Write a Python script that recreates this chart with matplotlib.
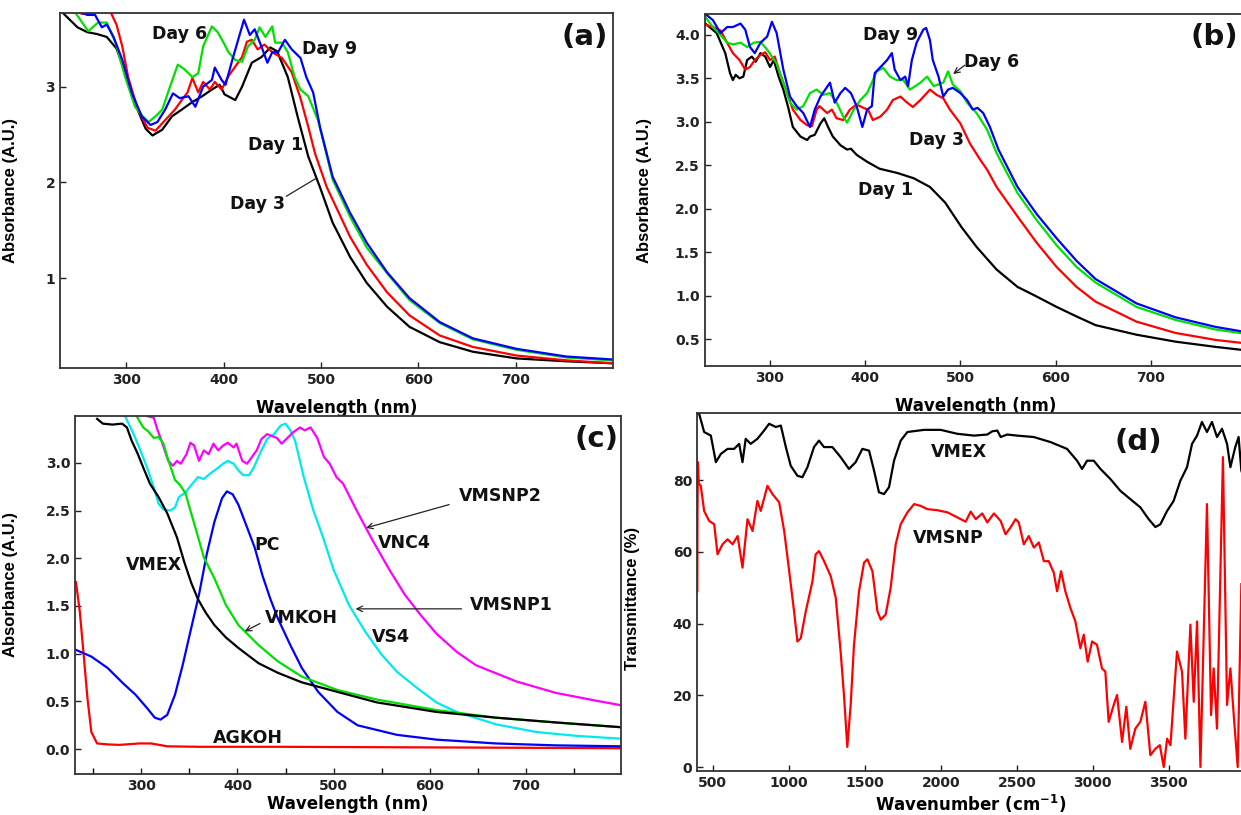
import matplotlib
matplotlib.use("Agg")
import matplotlib.pyplot as plt
from matplotlib.ticker import MultipleLocator

plt.rcParams["font.family"] = ["DejaVu Sans"]
plt.rcParams["font.weight"] = "bold"
plt.rcParams["mathtext.fontset"] = "dejavusans"
plt.rcParams["mathtext.default"] = "bf"

# ---------------- panel (a): UV-vis, days ----------------
a_day1_x = [235, 250, 260, 270, 280, 290, 300, 310, 320, 327, 337, 347, 357, 368, 378, 388, 396, 401, 412, 419,
            429, 439, 448, 455, 466, 476, 487, 499, 512, 530, 547, 568, 591, 622, 656, 701, 752, 798]
a_day1_y = [3.77, 3.62, 3.57, 3.55, 3.52, 3.40, 3.12, 2.80, 2.56, 2.49, 2.55, 2.69, 2.76, 2.84, 2.90, 2.97, 3.02, 2.92,
            2.86, 3.00, 3.25, 3.31, 3.41, 3.37, 3.10, 2.69, 2.27, 1.95, 1.58, 1.22, 0.95, 0.70, 0.49, 0.33, 0.23, 0.16,
            0.13, 0.11]

a_day3_x = [235, 255, 270, 283, 290, 296, 302, 312, 322, 330, 340, 350, 357, 363, 368, 374, 379, 386, 391, 398, 405,
            412, 419, 424, 429, 435, 442, 450, 460, 470, 479, 487, 494, 506, 512, 530, 547, 568, 591, 622, 656, 701,
            752, 798]
a_day3_y = [3.85, 3.76, 3.78, 3.80, 3.65, 3.42, 3.10, 2.76, 2.57, 2.54, 2.65, 2.76, 2.86, 2.94, 3.09, 2.94, 3.05, 2.97,
            3.05, 2.97, 3.11, 3.21, 3.31, 3.47, 3.49, 3.39, 3.44, 3.36, 3.30, 3.15, 2.88, 2.58, 2.30, 1.95, 1.82, 1.43,
            1.14, 0.85, 0.61, 0.40, 0.28, 0.19, 0.14, 0.11]

a_day6_x = [235, 248, 261, 271, 280, 289, 299, 309, 317, 323, 330, 337, 345, 353, 360, 368, 374, 379, 388, 394, 400,
            405, 412, 419, 425, 432, 437, 443, 450, 453, 460, 466, 473, 479, 487, 497, 507, 512, 530, 547, 568, 591,
            622, 656, 701, 752, 798]
a_day6_y = [3.85, 3.77, 3.58, 3.67, 3.67, 3.46, 3.10, 2.79, 2.69, 2.63, 2.69, 2.76, 3.00, 3.23, 3.18, 3.10, 3.14, 3.42,
            3.63, 3.57, 3.46, 3.36, 3.28, 3.26, 3.42, 3.49, 3.62, 3.52, 3.63, 3.46, 3.46, 3.36, 3.10, 2.97, 2.90, 2.65,
            2.24, 2.03, 1.64, 1.32, 1.05, 0.77, 0.53, 0.36, 0.25, 0.17, 0.14]

a_day9_x = [235, 260, 268, 275, 280, 287, 296, 306, 316, 325, 332, 340, 348, 355, 364, 371, 379, 388, 391, 398, 402,
            409, 415, 421, 427, 432, 440, 445, 450, 456, 463, 470, 479, 485, 492, 499, 512, 530, 547, 568, 591, 622,
            656, 701, 752, 798]
a_day9_y = [3.85, 3.75, 3.75, 3.62, 3.65, 3.52, 3.28, 2.93, 2.69, 2.60, 2.63, 2.76, 2.93, 2.88, 2.90, 2.79, 3.00, 3.07,
            3.20, 3.07, 3.02, 3.28, 3.49, 3.70, 3.54, 3.60, 3.39, 3.25, 3.36, 3.36, 3.49, 3.39, 3.30, 3.10, 2.94, 2.58,
            2.06, 1.68, 1.37, 1.06, 0.79, 0.54, 0.37, 0.26, 0.18, 0.15]

# ---------------- panel (b): UV-vis, days ----------------
b_day1_x = [231, 244, 253, 258, 261, 264, 268, 272, 276, 281, 285, 290, 295, 300, 304, 309, 314, 319, 324, 332, 339,
            342, 347, 353, 357, 361, 366, 374, 381, 385, 391, 402, 415, 434, 451, 468, 484, 501, 517, 538, 560, 580,
            601, 622, 642, 685, 726, 768, 800]
b_day1_y = [4.14, 4.02, 3.79, 3.56, 3.48, 3.54, 3.50, 3.52, 3.71, 3.75, 3.69, 3.79, 3.75, 3.63, 3.71, 3.52, 3.37, 3.17,
            2.94, 2.83, 2.79, 2.83, 2.85, 2.98, 3.04, 2.94, 2.83, 2.73, 2.68, 2.69, 2.62, 2.54, 2.46, 2.41, 2.35, 2.25,
            2.07, 1.79, 1.56, 1.30, 1.10, 0.99, 0.87, 0.76, 0.66, 0.55, 0.47, 0.41, 0.37]

b_day3_x = [231, 240, 248, 255, 261, 268, 274, 279, 284, 290, 295, 300, 305, 311, 318, 324, 332, 339, 344, 349, 352,
            360, 365, 370, 377, 384, 391, 398, 403, 408, 416, 423, 429, 437, 443, 450, 458, 468, 475, 482, 489, 500,
            510, 521, 528, 538, 560, 580, 601, 622, 642, 685, 726, 768, 800]
b_day3_y = [4.12, 4.09, 4.05, 3.91, 3.79, 3.71, 3.60, 3.63, 3.71, 3.77, 3.80, 3.71, 3.75, 3.54, 3.33, 3.14, 3.02, 2.96,
            2.95, 3.14, 3.18, 3.10, 3.14, 3.04, 3.02, 3.14, 3.20, 3.16, 3.14, 3.02, 3.06, 3.14, 3.25, 3.29, 3.23, 3.17,
            3.25, 3.37, 3.31, 3.27, 3.14, 2.98, 2.75, 2.56, 2.45, 2.25, 1.91, 1.61, 1.33, 1.10, 0.93, 0.70, 0.57, 0.49,
            0.45]

b_day6_x = [231, 240, 248, 255, 261, 269, 276, 283, 290, 297, 302, 307, 314, 321, 328, 335, 342, 349, 356, 363, 370,
            377, 381, 388, 395, 402, 407, 412, 419, 426, 433, 440, 447, 458, 465, 472, 482, 487, 492, 500, 507, 517,
            528, 538, 560, 580, 601, 622, 642, 685, 726, 768, 800]
b_day6_y = [4.22, 4.09, 4.00, 3.91, 3.89, 3.91, 3.86, 3.91, 3.92, 3.83, 3.75, 3.67, 3.45, 3.22, 3.14, 3.18, 3.33, 3.37,
            3.31, 3.33, 3.22, 3.06, 2.99, 3.14, 3.25, 3.33, 3.45, 3.58, 3.62, 3.52, 3.48, 3.48, 3.37, 3.45, 3.52, 3.41,
            3.45, 3.58, 3.43, 3.35, 3.22, 3.10, 2.91, 2.64, 2.18, 1.87, 1.58, 1.33, 1.15, 0.87, 0.72, 0.61, 0.56]

b_day9_x = [231, 240, 248, 255, 261, 269, 274, 279, 284, 290, 297, 302, 307, 314, 321, 328, 335, 342, 347, 353, 358,
            363, 368, 374, 379, 385, 391, 397, 402, 407, 410, 417, 423, 428, 431, 437, 442, 445, 449, 454, 461, 464,
            468, 471, 477, 482, 487, 492, 500, 507, 513, 518, 524, 531, 540, 560, 580, 601, 622, 642, 685, 726, 768,
            800]
b_day9_y = [4.25, 4.17, 4.02, 4.09, 4.09, 4.13, 4.06, 3.86, 3.79, 3.91, 3.98, 4.15, 4.02, 3.60, 3.29, 3.18, 3.10, 2.94,
            3.14, 3.29, 3.37, 3.45, 3.22, 3.33, 3.39, 3.33, 3.18, 2.94, 3.14, 3.18, 3.56, 3.64, 3.71, 3.79, 3.60, 3.48,
            3.52, 3.41, 3.71, 3.91, 4.06, 4.08, 3.94, 3.71, 3.52, 3.29, 3.37, 3.39, 3.33, 3.25, 3.14, 3.16, 3.10, 2.94,
            2.68, 2.25, 1.94, 1.66, 1.40, 1.19, 0.91, 0.75, 0.64, 0.58]

# ---------------- panel (c): UV-vis, samples ----------------
c_vmex_x = [254, 260, 270, 280, 285, 290, 296, 302, 309, 318, 327, 337, 345, 352, 359, 367, 376, 388, 401, 422, 442,
            467, 504, 545, 607, 669, 731, 799]
c_vmex_y = [3.46, 3.41, 3.40, 3.41, 3.37, 3.23, 3.10, 2.95, 2.78, 2.64, 2.47, 2.22, 1.95, 1.74, 1.57, 1.43, 1.30, 1.17,
            1.06, 0.90, 0.80, 0.70, 0.60, 0.49, 0.39, 0.33, 0.28, 0.23]

c_vmkoh_x = [295, 302, 307, 313, 318, 323, 327, 330, 335, 340, 346, 351, 358, 365, 376, 388, 401, 422, 442, 467, 504,
             545, 607, 669, 731, 799]
c_vmkoh_y = [3.49, 3.37, 3.33, 3.26, 3.27, 3.20, 3.06, 2.97, 2.82, 2.77, 2.68, 2.50, 2.26, 2.01, 1.79, 1.51, 1.30, 1.09,
             0.92, 0.76, 0.62, 0.52, 0.41, 0.33, 0.28, 0.23]

c_vs4_x = [283, 292, 299, 306, 313, 318, 323, 330, 335, 339, 346, 353, 359, 365, 372, 379, 385, 390, 396, 401, 406,
           412, 417, 424, 431, 438, 445, 450, 455, 460, 469, 479, 489, 500, 516, 533, 550, 566, 587, 607, 628, 669,
           711, 752, 799]
c_vs4_y = [3.49, 3.30, 3.13, 2.95, 2.74, 2.57, 2.51, 2.50, 2.53, 2.64, 2.69, 2.78, 2.85, 2.83, 2.89, 2.94, 2.99, 3.02,
           2.99, 2.92, 2.87, 2.87, 2.95, 3.11, 3.25, 3.30, 3.39, 3.41, 3.34, 3.23, 2.85, 2.50, 2.22, 1.88, 1.51, 1.23,
           0.99, 0.81, 0.64, 0.49, 0.39, 0.26, 0.18, 0.14, 0.11]

c_vnc4_x = [306, 313, 316, 321, 325, 328, 333, 337, 341, 347, 351, 355, 360, 365, 370, 375, 380, 385, 390, 396, 399,
            405, 410, 415, 420, 425, 431, 436, 441, 446, 451, 458, 465, 470, 476, 483, 490, 496, 503, 510, 517, 524,
            533, 541, 558, 574, 591, 607, 628, 648, 690, 731, 772, 799]
c_vnc4_y = [3.49, 3.47, 3.37, 3.23, 3.11, 3.02, 2.97, 3.02, 2.99, 3.09, 3.21, 3.18, 3.02, 3.13, 3.09, 3.20, 3.13, 3.18,
            3.21, 3.16, 3.20, 3.02, 2.99, 3.06, 3.13, 3.25, 3.30, 3.28, 3.26, 3.20, 3.25, 3.32, 3.37, 3.34, 3.37, 3.26,
            3.06, 2.99, 2.85, 2.78, 2.64, 2.50, 2.33, 2.18, 1.88, 1.62, 1.40, 1.21, 1.02, 0.88, 0.71, 0.59, 0.51, 0.46]

c_pc_x = [232, 248, 265, 281, 294, 306, 314, 320, 327, 335, 343, 351, 360, 368, 376, 384, 389, 395, 401, 409, 418, 426,
          434, 442, 455, 467, 484, 504, 525, 566, 607, 669, 731, 799]
c_pc_y = [1.04, 0.97, 0.85, 0.69, 0.57, 0.43, 0.33, 0.31, 0.36, 0.57, 0.88, 1.23, 1.62, 2.04, 2.38, 2.63, 2.70, 2.67,
          2.56, 2.35, 2.11, 1.82, 1.58, 1.37, 1.09, 0.85, 0.60, 0.39, 0.25, 0.15, 0.10, 0.06, 0.04, 0.03]

c_agkoh_x = [232, 236, 240, 244, 248, 254, 265, 277, 298, 310, 327, 360, 442, 566, 690, 799]
c_agkoh_y = [1.75, 1.44, 0.99, 0.53, 0.18, 0.06, 0.05, 0.045, 0.06, 0.06, 0.03, 0.025, 0.025, 0.02, 0.015, 0.01]

# ---------------- panel (d): FTIR ----------------
d_vmex_x = [400, 412, 445, 489, 522, 555, 599, 642, 675, 697, 718, 751, 795, 839, 872, 916, 949, 982, 1014, 1058,
            1091, 1124, 1167, 1200, 1233, 1288, 1342, 1397, 1441, 1485, 1529, 1562, 1594, 1627, 1660, 1693, 1737,
            1781, 1890, 2000, 2109, 2219, 2306, 2339, 2372, 2394, 2437, 2502, 2612, 2721, 2830, 2896, 2929, 2962,
            3006, 3050, 3115, 3181, 3246, 3312, 3367, 3411, 3444, 3488, 3531, 3575, 3619, 3652, 3685, 3717, 3750,
            3783, 3816, 3849, 3882, 3904, 3936, 3958, 3976, 4000]
d_vmex_y = [98.7, 98.5, 93.4, 92.4, 85.0, 87.3, 88.7, 88.7, 90.1, 85.0, 91.5, 90.1, 91.5, 93.8, 95.7, 94.8, 95.2, 89.2,
            84.0, 81.2, 80.8, 83.6, 89.2, 91.0, 89.2, 89.2, 86.4, 83.1, 85.0, 88.7, 88.2, 82.6, 76.6, 76.1, 78.0, 85.4,
            91.0, 93.4, 94.0, 94.0, 92.9, 92.4, 92.7, 93.6, 93.8, 92.0, 92.7, 92.4, 92.0, 90.6, 88.7, 85.4, 83.1, 85.4,
            85.4, 83.1, 80.3, 77.0, 74.7, 72.4, 69.1, 66.9, 67.7, 71.4, 74.2, 79.8, 83.6, 90.1, 92.4, 96.2, 93.4, 96.2,
            92.0, 94.3, 90.1, 83.6, 89.2, 92.0, 82.6, 80.0]

d_vmsnp_x = [400, 401, 404, 410, 423, 445, 478, 511, 533, 566, 599, 632, 665, 697, 730, 763, 795, 817, 861, 894, 938,
             971, 1004, 1036, 1058, 1080, 1113, 1157, 1178, 1200, 1233, 1277, 1310, 1342, 1364, 1386, 1408, 1430,
             1463, 1496, 1518, 1551, 1584, 1606, 1638, 1671, 1704, 1737, 1781, 1825, 1868, 1912, 1978, 2044, 2109,
             2164, 2197, 2230, 2273, 2306, 2350, 2394, 2426, 2459, 2492, 2513, 2546, 2579, 2612, 2645, 2678, 2710,
             2743, 2765, 2791, 2819, 2852, 2885, 2918, 2940, 2966, 2995, 3027, 3060, 3082, 3104, 3137, 3159, 3192,
             3220, 3246, 3279, 3312, 3345, 3378, 3411, 3440, 3466, 3488, 3510, 3553, 3586, 3608, 3641, 3663, 3685,
             3707, 3750, 3777, 3794, 3816, 3855, 3882, 3904, 3926, 3952, 3976]
d_vmsnp_y = [49.0, 70.0, 85.0, 79.0, 78.4, 71.4, 68.6, 67.7, 59.3, 62.1, 63.5, 62.1, 64.4, 55.6, 69.1, 65.8, 74.2,
             71.4, 78.4, 76.1, 73.8, 65.8, 54.6, 43.4, 35.0, 35.9, 43.4, 51.8, 59.3, 60.2, 57.4, 53.2, 47.2, 32.2,
             20.1, 5.6, 17.3, 34.1, 49.0, 57.0, 57.9, 54.6, 43.4, 41.1, 42.5, 50.0, 62.1, 67.7, 71.0, 73.3, 72.8, 71.9,
             71.6, 71.0, 69.6, 68.4, 71.2, 69.1, 70.7, 68.2, 70.7, 68.6, 64.9, 66.8, 69.1, 68.2, 62.1, 64.4, 61.2,
             62.6, 57.4, 57.4, 54.2, 49.0, 54.6, 49.0, 44.4, 40.6, 33.1, 36.9, 29.4, 35.0, 34.1, 27.5, 26.6, 12.6,
             17.3, 20.1, 7.0, 16.8, 5.1, 10.7, 12.6, 18.2, 3.3, 5.1, 6.1, 0.0, 7.9, 6.1, 32.2, 26.6, 7.9, 39.7, 18.2,
             40.6, 0.0, 73.3, 14.5, 27.5, 10.7, 86.4, 17.3, 27.5, 14.5, 0.0, 51.0]

W, H = 1241, 815
LW = 1.6
GREEN = "#00e000"
CYAN = "#00e8f0"
TXT = dict(fontsize=12.5, fontweight="bold", ha="center", va="center", color="#111111")
PANEL = dict(fontsize=21, fontweight="bold", ha="center", va="center", color="#111111")
YLAB = dict(fontsize=12, fontweight="bold", family="Liberation Sans")


def px_axes(l, t, r, b):
    # pixel box -> figure fraction
    return fig.add_axes([l / W, 1 - b / H, (r - l) / W, (b - t) / H])


def style(ax):
    for s in ax.spines.values():
        s.set_linewidth(1.3)
        s.set_color("#333333")
    ax.tick_params(direction="in", length=4, width=1, labelsize=10, colors="#222222")
    for lab in ax.get_xticklabels() + ax.get_yticklabels():
        lab.set_fontweight("bold")


fig = plt.figure(figsize=(W / 100, H / 100), dpi=100)

# (a)
ax = px_axes(60, 13, 613, 368)
ax.plot(a_day1_x, a_day1_y, color="black", lw=LW)
ax.plot(a_day3_x, a_day3_y, color="red", lw=LW)
ax.plot(a_day6_x, a_day6_y, color=GREEN, lw=LW)
ax.plot(a_day9_x, a_day9_y, color="blue", lw=LW)
ax.set_xlim(232, 800)
ax.set_ylim(0.06, 3.77)
ax.set_xticks([300, 400, 500, 600, 700])
ax.set_yticks([1, 2, 3])
style(ax)
ax.set_xlabel("Wavelength (nm)", fontsize=12, fontweight="bold")
ax.xaxis.set_label_coords(0.5, -0.088)
ax.set_ylabel("Absorbance (A.U.)", **YLAB)
ax.yaxis.set_label_coords(-0.076, 0.5)
ax.text(355, 3.55, "Day 6", **TXT)
ax.text(509, 3.39, "Day 9", **TXT)
ax.text(453, 2.39, "Day 1", **TXT)
ax.text(435, 1.77, "Day 3", **TXT)
ax.annotate("", xy=(498, 2.06), xytext=(462, 1.84),
            arrowprops=dict(arrowstyle="-", color="#222222", lw=0.9))
ax.text(771, 3.52, "(a)", **PANEL)

# (b)
ax = px_axes(704.5, 14, 1246, 366)
ax.plot(b_day1_x, b_day1_y, color="black", lw=LW)
ax.plot(b_day3_x, b_day3_y, color="red", lw=LW)
ax.plot(b_day6_x, b_day6_y, color=GREEN, lw=LW)
ax.plot(b_day9_x, b_day9_y, color="blue", lw=LW)
ax.set_xlim(231.2, 800)
ax.set_ylim(0.19, 4.24)
ax.set_xticks([300, 400, 500, 600, 700])
ax.set_yticks([0.5, 1.0, 1.5, 2.0, 2.5, 3.0, 3.5, 4.0])
ax.set_yticklabels(["0.5", "1.0", "1.5", "2.0", "2.5", "3.0", "3.5", "4.0"])
style(ax)
ax.set_xlabel("Wavelength (nm)", fontsize=12, fontweight="bold")
ax.xaxis.set_label_coords(0.5, -0.088)
ax.set_ylabel("Absorbance (A.U.)", **YLAB)
ax.yaxis.set_label_coords(-0.097, 0.5)
ax.text(427, 4.0, "Day 9", **TXT)
ax.text(533, 3.69, "Day 6", **TXT)
ax.text(475, 2.79, "Day 3", **TXT)
ax.text(421, 2.22, "Day 1", **TXT)
ax.annotate("", xy=(490, 3.53), xytext=(507, 3.67),
            arrowprops=dict(arrowstyle="->", color="#222222", lw=0.9))
ax.text(767, 3.98, "(b)", **PANEL)

# (c)
ax = px_axes(75, 416, 621, 774)
ax.plot(c_agkoh_x, c_agkoh_y, color="red", lw=LW)
ax.plot(c_pc_x, c_pc_y, color="blue", lw=LW)
ax.plot(c_vs4_x, c_vs4_y, color=CYAN, lw=LW)
ax.plot(c_vnc4_x, c_vnc4_y, color="magenta", lw=LW)
ax.plot(c_vmkoh_x, c_vmkoh_y, color=GREEN, lw=LW)
ax.plot(c_vmex_x, c_vmex_y, color="black", lw=LW)
ax.set_xlim(231, 799)
ax.set_ylim(-0.26, 3.49)
ax.set_xticks([300, 400, 500, 600, 700])
ax.xaxis.set_minor_locator(MultipleLocator(50))
ax.set_yticks([0.0, 0.5, 1.0, 1.5, 2.0, 2.5, 3.0])
ax.set_yticklabels(["0.0", "0.5", "1.0", "1.5", "2.0", "2.5", "3.0"])
style(ax)
ax.tick_params(which="minor", direction="in", length=4, width=1)
ax.set_xlabel("Wavelength (nm)", fontsize=12, fontweight="bold")
ax.xaxis.set_label_coords(0.5, -0.058)
ax.set_ylabel("Absorbance (A.U.)", **YLAB)
ax.yaxis.set_label_coords(-0.104, 0.53)
ax.text(313, 1.93, "VMEX", **TXT)
ax.text(431, 2.14, "PC", **TXT)
ax.text(574, 2.16, "VNC4", **TXT)
ax.text(674, 2.65, "VMSNP2", **TXT)
ax.text(685, 1.51, "VMSNP1", **TXT)
ax.text(467, 1.37, "VMKOH", **TXT)
ax.text(560, 1.17, "VS4", **TXT)
ax.text(411, 0.12, "AGKOH", **TXT)
arrow = dict(arrowstyle="->", color="#222222", lw=0.9)
ax.annotate("", xy=(531, 2.31), xytext=(623, 2.57), arrowprops=arrow)
ax.annotate("", xy=(520, 1.47), xytext=(636, 1.47), arrowprops=arrow)
ax.annotate("", xy=(405, 1.22), xytext=(426, 1.33), arrowprops=arrow)
ax.text(773, 3.25, "(c)", **PANEL)

# (d)
ax = px_axes(697, 413, 1245, 771)
ax.plot(d_vmex_x, d_vmex_y, color="black", lw=LW)
ax.plot(d_vmsnp_x, d_vmsnp_y, color="red", lw=LW)
ax.set_xlim(398, 4000)
ax.set_ylim(-1.1, 98.7)
ax.set_xticks([500, 1000, 1500, 2000, 2500, 3000, 3500])
ax.set_yticks([0, 20, 40, 60, 80])
style(ax)
ax.set_xlabel("Wavenumber (cm$^{-1}$)", fontsize=12, fontweight="bold")
ax.xaxis.set_label_coords(0.5, -0.062)
ax.set_ylabel("Transmittance (%)", **YLAB)
ax.yaxis.set_label_coords(-0.104, 0.483)
ax.text(2119, 87.9, "VMEX", **TXT)
ax.text(2052, 63.9, "VMSNP", **TXT)
ax.text(3296, 90.7, "(d)", **PANEL)

fig.savefig("out.png", dpi=100)
